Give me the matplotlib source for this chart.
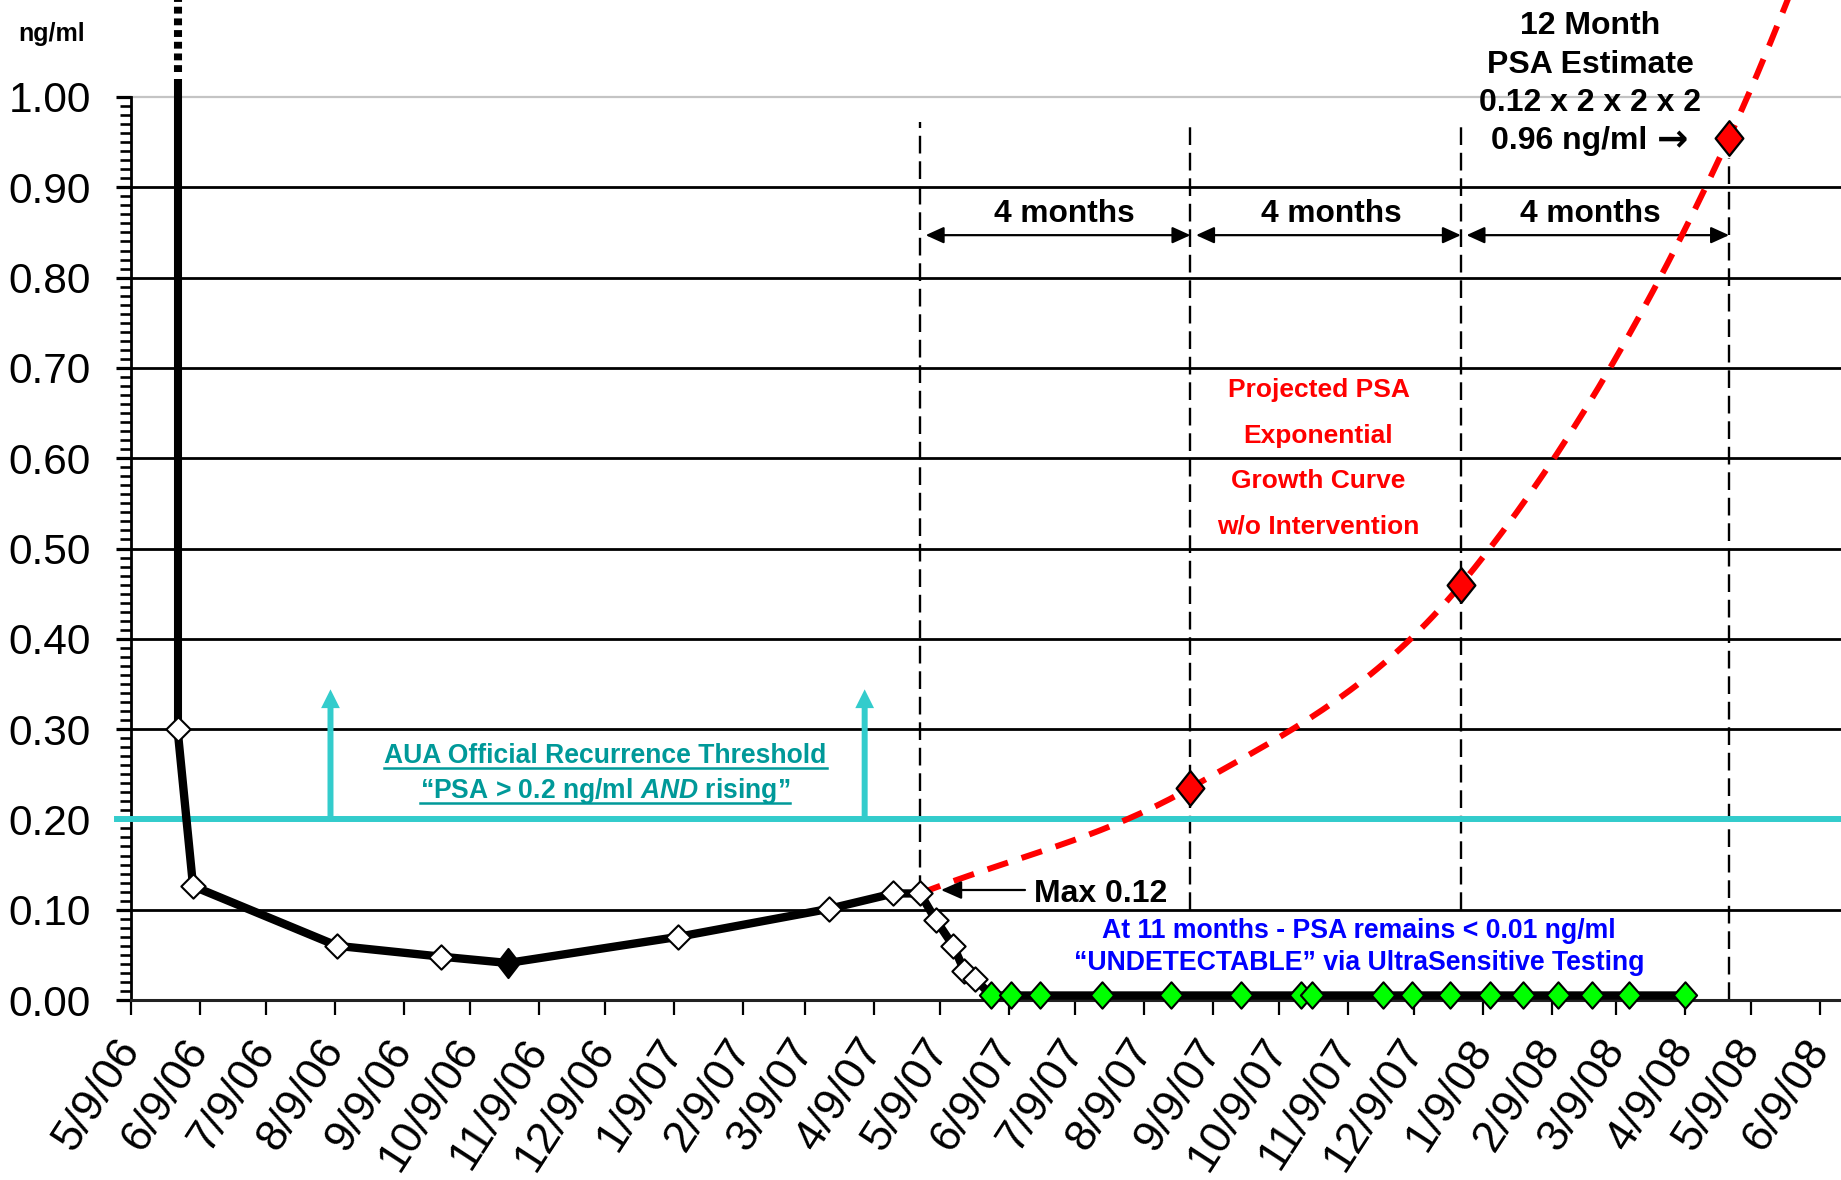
import matplotlib
matplotlib.use('Agg')
import matplotlib.pyplot as plt
import matplotlib.dates as mdates
from matplotlib.path import Path
from matplotlib.lines import Line2D
from datetime import datetime
import numpy as np

plt.rcParams['font.family'] = ['Liberation Sans', 'DejaVu Sans']
plt.rcParams['mathtext.fontset'] = 'custom'
plt.rcParams['mathtext.it'] = 'Liberation Sans:italic:bold'
plt.rcParams['mathtext.rm'] = 'Liberation Sans:bold'
plt.rcParams['mathtext.bf'] = 'Liberation Sans:bold'

# ---------------- data ----------------
measured_dates = ['5/30/06', '6/6/06', '8/10/06', '9/26/06', '10/26/06', '1/11/07',
                  '3/20/07', '4/18/07', '4/30/07', '5/7/07', '5/15/07', '5/20/07', '5/25/07']
measured_psa = [0.300, 0.126, 0.060, 0.048, 0.041, 0.070,
                0.101, 0.118, 0.118, 0.089, 0.060, 0.032, 0.023]
highlight_index = 4          # filled black diamond

undetectable_dates = ['6/1/07', '6/10/07', '6/23/07', '7/21/07', '8/21/07', '9/22/07',
                      '10/19/07', '10/24/07', '11/25/07', '12/8/07', '12/25/07', '1/12/08',
                      '1/27/08', '2/12/08', '2/27/08', '3/15/08', '4/9/08']
undetectable_psa = [0.005, 0.005, 0.005, 0.005, 0.005, 0.005,
                    0.005, 0.005, 0.005, 0.005, 0.005, 0.005,
                    0.005, 0.005, 0.005, 0.005, 0.005]

projected_dates = ['4/30/07', '8/30/07', '12/30/07', '4/29/08', '8/29/08']
projected_psa = [0.118, 0.235, 0.460, 0.955, 1.75]

spike_date = '5/30/06'
spike_solid_top = 1.02
spike_dotted = (1.028, 1.12)

interval_dates = ['4/30/07', '8/30/07', '12/30/07', '4/29/08']
interval_tops = [0.972, 0.967, 0.967, 0.933]
interval_bottoms = [0.118, 0.100, 0.100, 0.0]
interval_arrow_level = 0.847

aua_threshold = 0.20
aua_arrow_dates = ['8/7/06', '4/5/07']
aua_arrow_top = 0.344

X_TICK_LABELS = ['5/9/06', '6/9/06', '7/9/06', '8/9/06', '9/9/06', '10/9/06', '11/9/06',
                 '12/9/06', '1/9/07', '2/9/07', '3/9/07', '4/9/07', '5/9/07', '6/9/07',
                 '7/9/07', '8/9/07', '9/9/07', '10/9/07', '11/9/07', '12/9/07', '1/9/08',
                 '2/9/08', '3/9/08', '4/9/08', '5/9/08', '6/9/08']
Y_TICKS = [0.0, 0.1, 0.2, 0.3, 0.4, 0.5, 0.6, 0.7, 0.8, 0.9, 1.0]
Y_TICK_LABELS = ['0.00', '0.10', '0.20', '0.30', '0.40', '0.50',
                 '0.60', '0.70', '0.80', '0.90', '1.00']


def dn(strings):
    return mdates.date2num([datetime.strptime(s, '%m/%d/%y') for s in strings])


# ---------------- figure ----------------
W, H = 1841, 1180
fig = plt.figure(figsize=(W / 100, H / 100), dpi=100)
ax = fig.add_axes([131 / W, 180 / H, 1710 / W, 1000 / H])

x0 = dn(['5/9/06'])[0]
px_per_day = 2.2165
ax.set_xlim(x0, x0 + 1710 / px_per_day)
ax.set_ylim(0, 1000 / 903)

for s in ['top', 'right']:
    ax.spines[s].set_visible(False)
ax.spines['left'].set_bounds(0, 1.0)
ax.spines['left'].set_linewidth(2.0)
ax.spines['bottom'].set_linewidth(2.2)
ax.spines['bottom'].set_color('#222222')

# gridlines
for v in Y_TICKS[1:-1]:
    ax.axhline(v, color='black', lw=2.0, zorder=1)
ax.axhline(1.0, color='#C4C4C4', lw=1.6, zorder=1)

# ticks
ax.set_yticks(Y_TICKS)
ax.set_yticklabels(Y_TICK_LABELS, fontsize=30.5)
ax.set_yticks([i / 100 for i in range(101) if i % 10], minor=True)
ax.tick_params(axis='y', which='major', length=10.8, width=2.3, pad=18, direction='out')
ax.tick_params(axis='y', which='minor', length=8, width=1.9, direction='out')

ax.set_xticks(dn(X_TICK_LABELS))
ax.set_xticklabels(X_TICK_LABELS, rotation=57, ha='right', va='center',
                   rotation_mode='anchor', fontsize=32)
ax.tick_params(axis='x', length=10.8, width=1.6, pad=20, direction='out')


def F(x, y):
    return (x / W, 1 - y / H)


fig.text(*F(52, 41), 'ng/ml', ha='center', va='baseline', fontsize=18, fontweight='bold')

# AUA threshold line and arrows
cyan = '#33CCCC'
teal = '#009999'
ax.add_line(Line2D([-14 / 1710, 1.0], [aua_threshold, aua_threshold], color=cyan, lw=4.3,
                   transform=ax.get_yaxis_transform(), clip_on=False, zorder=3))
for d in dn(aua_arrow_dates):
    ax.annotate('', xy=(d, aua_arrow_top), xytext=(d, aua_threshold),
                arrowprops=dict(width=4.3, headwidth=13.5, headlength=13.5, shrink=0,
                                facecolor=cyan, edgecolor='none'), zorder=3)

# vertical dashed interval lines and arrows
idates = dn(interval_dates)
for d, t, b in zip(idates, interval_tops, interval_bottoms):
    ax.plot([d, d], [b, t], color='black', lw=1.7, dashes=(7.5, 3.3), zorder=2)
for a, b in zip(idates[:-1], idates[1:]):
    ax.annotate('', xy=(b, interval_arrow_level), xytext=(a + 2.5, interval_arrow_level),
                arrowprops=dict(arrowstyle='<|-|>,head_length=0.55,head_width=0.25',
                                mutation_scale=20, lw=1.6, color='black',
                                shrinkA=0, shrinkB=0), zorder=4)
for xc in [1064, 1331, 1590]:
    fig.text(*F(xc, 221.7), '4 months', ha='center', va='baseline', fontsize=22.8,
             fontweight='bold')


# projected curve (smoothed like a spreadsheet "smoothed line")
def catmull_rom(xs, ys, n=40):
    P = np.column_stack([xs, ys])
    P = np.vstack([2 * P[0] - P[1], P, 2 * P[-1] - P[-2]])
    out = []
    t = np.linspace(0, 1, n)[:, None]
    for i in range(1, len(P) - 2):
        p0, p1, p2, p3 = P[i - 1], P[i], P[i + 1], P[i + 2]
        seg = 0.5 * ((2 * p1) + (-p0 + p2) * t + (2 * p0 - 5 * p1 + 4 * p2 - p3) * t ** 2
                     + (-p0 + 3 * p1 - 3 * p2 + p3) * t ** 3)
        out.append(seg if i == 1 else seg[1:])
    return np.vstack(out)


pdates = dn(projected_dates)
curve = catmull_rom(pdates, np.array(projected_psa))
ax.plot(curve[:, 0], curve[:, 1], color='#FF0000', lw=4.3, dashes=(3.6, 2.4), zorder=5,
        solid_capstyle='butt', dash_capstyle='butt')


def diamond(aspect):
    return Path([(0, 1), (aspect, 0), (0, -1), (-aspect, 0), (0, 1)],
                [Path.MOVETO, Path.LINETO, Path.LINETO, Path.LINETO, Path.CLOSEPOLY])


ax.plot(pdates[1:], projected_psa[1:], linestyle='none', marker=diamond(0.8), markersize=25,
        markerfacecolor='#FF0000', markeredgecolor='black', markeredgewidth=1.6, zorder=7)

# pre-op spike
sd = dn([spike_date])[0]
ax.plot([sd, sd], [measured_psa[0], spike_solid_top], color='black', lw=5.8, zorder=6,
        solid_capstyle='butt')
ax.plot([sd, sd], list(spike_dotted), color='black', lw=5.8, dashes=(0.85, 0.6), zorder=6,
        dash_capstyle='butt')

# measured PSA line
mdts = dn(measured_dates)
udts = dn(undetectable_dates)
ax.plot(np.concatenate([mdts, udts]), measured_psa + undetectable_psa, color='black', lw=6.0,
        zorder=6, solid_joinstyle='round', clip_on=False)
white_idx = [i for i in range(len(measured_dates)) if i != highlight_index]
ax.plot([mdts[i] for i in white_idx], [measured_psa[i] for i in white_idx], linestyle='none',
        marker=diamond(1.0), markersize=17.5, markerfacecolor='white',
        markeredgecolor='black', markeredgewidth=1.5, zorder=8, clip_on=False)
ax.plot([mdts[highlight_index]], [measured_psa[highlight_index]], linestyle='none',
        marker=diamond(0.77), markersize=21, markerfacecolor='black',
        markeredgecolor='black', markeredgewidth=1.5, zorder=8, clip_on=False)
ax.plot(udts, undetectable_psa, linestyle='none', marker=diamond(0.88), markersize=19,
        markerfacecolor='#00FF00', markeredgecolor='black', markeredgewidth=1.5, zorder=8,
        clip_on=False)

# Max 0.12 annotation
ax.annotate('', xy=F(941, 890), xycoords='figure fraction', xytext=F(1025, 890),
            textcoords='figure fraction',
            arrowprops=dict(arrowstyle='-|>,head_length=0.5,head_width=0.22',
                            mutation_scale=25, lw=1.6, color='black', shrinkA=0, shrinkB=0),
            zorder=9)
fig.text(*F(1034, 901.7), 'Max 0.12', ha='left', va='baseline', fontsize=23,
         fontweight='bold')

# 12 month estimate text
for txt, yb in [('12 Month', 34.5), ('PSA Estimate', 72.8), ('0.12 x 2 x 2 x 2', 111)]:
    fig.text(*F(1590, yb), txt, ha='center', va='baseline', fontsize=23, fontweight='bold')
fig.text(*F(1647, 149.3), '0.96 ng/ml', ha='right', va='baseline', fontsize=23,
         fontweight='bold')
fig.text(*F(1657, 151), '\u2192', ha='left', va='baseline', fontsize=27,
         fontweight='bold', family='DejaVu Sans')

# red projection text
for txt, yb in [('Projected PSA', 397), ('Exponential', 442.6), ('Growth Curve', 488.4),
                ('w/o Intervention', 533)]:
    fig.text(*F(1318.5, yb), txt, ha='center', va='baseline', fontsize=19,
             fontweight='bold', color='#FF0000')

# blue undetectable text
fig.text(*F(1359, 938.3), 'At 11 months - PSA remains < 0.01 ng/ml', ha='center',
         va='baseline', fontsize=19.2, fontweight='bold', color='#0000FF')
fig.text(*F(1359, 969.5), '\u201cUNDETECTABLE\u201d via UltraSensitive Testing', ha='center',
         va='baseline', fontsize=19.2, fontweight='bold', color='#0000FF')

# teal AUA text with underline
t1 = fig.text(*F(605.4, 763.3), 'AUA Official Recurrence Threshold', ha='center',
              va='baseline', fontsize=19.1, fontweight='bold', color=teal)
t2 = fig.text(*F(605.2, 798.3), '\u201cPSA > 0.2 ng/ml $\\mathit{AND}$ rising\u201d',
              ha='center', va='baseline', fontsize=19.1, fontweight='bold', color=teal)
fig.canvas.draw()
renderer = fig.canvas.get_renderer()
for t, yu in [(t1, 767.6), (t2, 802.6)]:
    bb = t.get_window_extent(renderer)
    fig.add_artist(Line2D([bb.x0 / W, bb.x1 / W], [1 - yu / H, 1 - yu / H], color=teal,
                          lw=1.8, transform=fig.transFigure))

fig.savefig('out.png', dpi=100)
